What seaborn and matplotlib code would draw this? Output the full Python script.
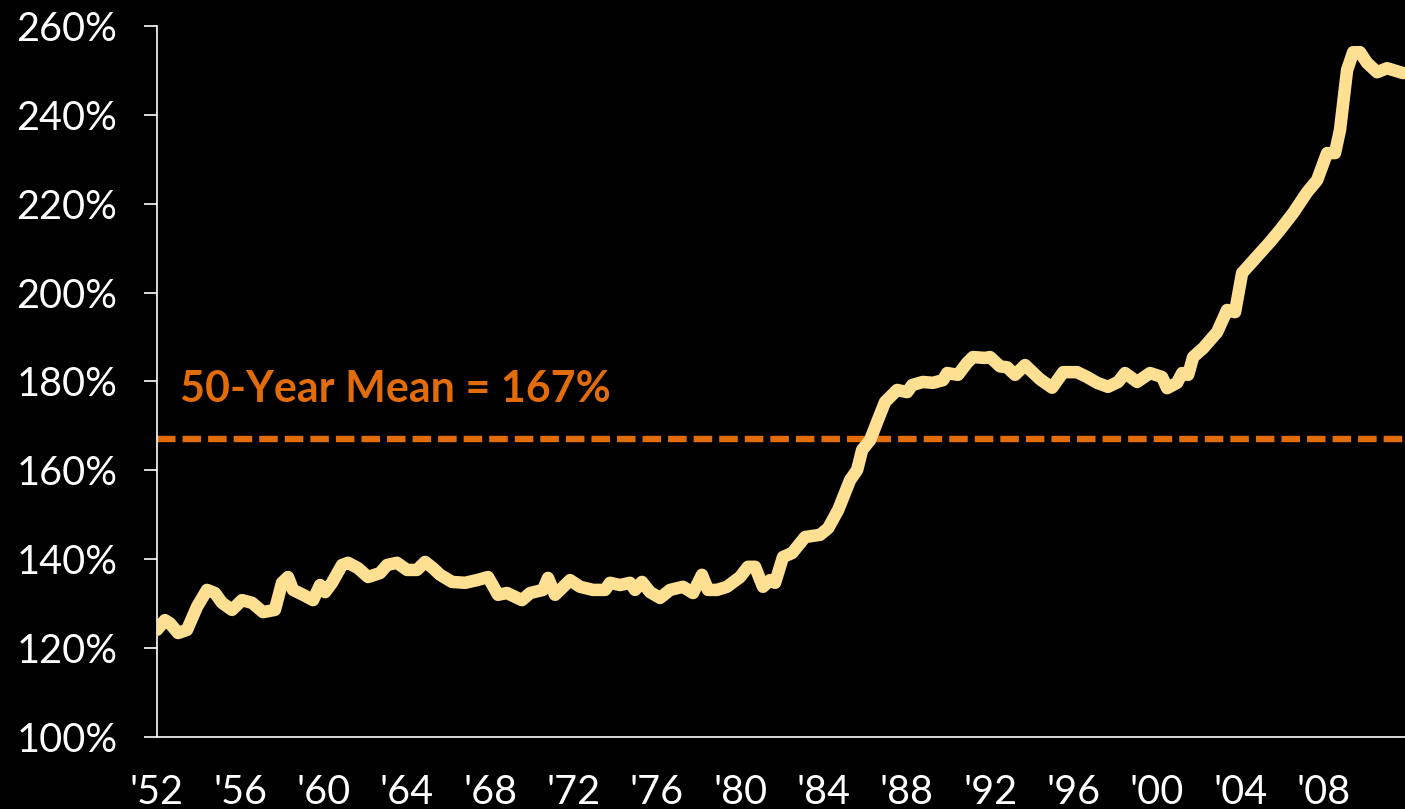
import matplotlib
matplotlib.use("Agg")
import matplotlib.pyplot as plt
import seaborn as sns
import pandas as pd

# Household ratio series (percent), sampled roughly quarterly
years = [
    1952.00, 1952.38, 1952.62, 1953.01, 1953.44, 1953.92, 1954.40, 1954.78, 1955.12, 1955.60,
    1956.08, 1956.56, 1957.09, 1957.66, 1958.00, 1958.29, 1958.53, 1959.01, 1959.49, 1959.83,
    1960.07, 1960.40, 1960.88, 1961.17, 1961.65, 1962.13, 1962.71, 1963.04, 1963.52, 1964.00,
    1964.48, 1964.87, 1965.25, 1965.59, 1966.16, 1966.79, 1967.36, 1967.89, 1968.37, 1968.80,
    1969.52, 1969.91, 1970.53, 1970.77, 1971.11, 1971.83, 1972.31, 1972.93, 1973.51, 1973.75,
    1974.23, 1974.71, 1974.95, 1975.28, 1975.67, 1976.15, 1976.63, 1977.25, 1977.73, 1978.16,
    1978.45, 1978.88, 1979.36, 1979.99, 1980.37, 1980.71, 1981.09, 1981.43, 1981.67, 1982.05,
    1982.49, 1983.11, 1983.83, 1984.22, 1984.70, 1985.27, 1985.61, 1985.85, 1986.23, 1986.57,
    1986.95, 1987.53, 1988.01, 1988.25, 1988.77, 1989.25, 1989.73, 1989.93, 1990.45, 1990.89,
    1991.17, 1991.75, 1991.99, 1992.47, 1992.81, 1993.19, 1993.67, 1994.39, 1994.97, 1995.50,
    1996.17, 1996.65, 1997.13, 1997.65, 1998.14, 1998.47, 1999.05, 1999.67, 2000.25, 2000.49,
    2000.97, 2001.21, 2001.50, 2001.74, 2002.22, 2002.89, 2003.37, 2003.75, 2004.09, 2004.95,
    2005.43, 2005.91, 2006.54, 2007.21, 2007.69, 2008.17, 2008.55, 2008.79, 2009.13, 2009.42,
    2009.75, 2010.09, 2010.57, 2011.05, 2011.82,
]
ratio = [
    124.1, 126.3, 125.6, 123.4, 124.1, 129.3, 133.1, 132.4, 130.2, 128.6,
    130.8, 130.2, 128.1, 128.6, 134.7, 136.0, 133.1, 132.0, 130.8, 134.2,
    132.6, 134.7, 138.7, 139.2, 138.0, 136.0, 136.9, 138.7, 139.2, 137.6,
    137.6, 139.4, 138.0, 136.5, 134.9, 134.7, 135.3, 136.0, 132.0, 132.4,
    130.8, 132.4, 133.1, 135.8, 132.0, 135.3, 133.8, 133.1, 133.1, 134.7,
    134.2, 134.7, 133.1, 134.9, 132.6, 131.3, 133.1, 133.8, 132.4, 136.5,
    133.1, 133.1, 133.8, 136.0, 138.3, 138.3, 133.8, 135.3, 134.7, 140.5,
    141.4, 145.0, 145.5, 147.0, 151.1, 157.8, 160.1, 164.6, 166.8, 170.9,
    175.4, 178.1, 177.6, 179.2, 179.9, 179.7, 180.3, 181.9, 181.5, 184.2,
    185.5, 185.3, 185.5, 183.4, 183.2, 181.5, 183.7, 180.5, 178.6, 182.1,
    182.1, 181.0, 179.7, 178.8, 179.9, 181.9, 179.9, 181.9, 181.0, 178.5,
    179.7, 181.9, 181.5, 185.5, 187.5, 191.1, 196.1, 195.6, 204.4, 208.9,
    211.4, 214.1, 217.9, 222.6, 225.3, 231.4, 231.4, 236.6, 250.1, 254.1,
    254.1, 251.7, 249.6, 250.5, 249.4,
]

MEAN_VALUE = 167
mean_label = "50-Year Mean = 167%"

tick_years = list(range(1952, 2012, 4))
tick_labels = ["'" + str(y)[2:] for y in tick_years]
y_ticks = list(range(100, 261, 20))
y_labels = [f"{v}%" for v in y_ticks]

df = pd.DataFrame({"year": years, "ratio": ratio})

sns.set_theme(style="dark", rc={
    "figure.facecolor": "black",
    "axes.facecolor": "black",
    "axes.edgecolor": "white",
    "text.color": "white",
    "xtick.color": "white",
    "ytick.color": "white",
})
plt.rcParams["font.family"] = ["Lato", "DejaVu Sans"]

fig = plt.figure(figsize=(14.05, 8.09), dpi=100)
ax = fig.add_axes([157 / 1405, 1 - 737 / 809, 1 - 157 / 1405, (737 - 26) / 809])

sns.lineplot(data=df, x="year", y="ratio", ax=ax, color="#FFE093",
             linewidth=9, solid_capstyle="round", solid_joinstyle="round",
             zorder=3)

ax.axhline(MEAN_VALUE, color="#E36C0A", linewidth=4.6,
           dashes=(2.9, 1.1), zorder=2)
ax.text(1953.1, 175.4, mean_label, color="#E36C0A", fontsize=31,
        fontweight="bold", va="baseline", ha="left")

ax.set_xlim(1952, 2011.91)
ax.set_ylim(100, 260)
ax.set_xticks(tick_years)
ax.set_xticklabels(tick_labels)
ax.set_yticks(y_ticks)
ax.set_yticklabels(y_labels)
ax.set_xlabel("")
ax.set_ylabel("")
ax.grid(False)

for side in ("top", "right"):
    ax.spines[side].set_visible(False)
for side in ("left", "bottom"):
    ax.spines[side].set_color("white")
    ax.spines[side].set_linewidth(1.2)

ax.tick_params(axis="y", length=9.5, width=1.2, pad=19, labelsize=28.5, left=True)
ax.tick_params(axis="x", length=0, pad=27, labelsize=28.5, bottom=False)

fig.savefig("out.png", dpi=100, facecolor="black")
